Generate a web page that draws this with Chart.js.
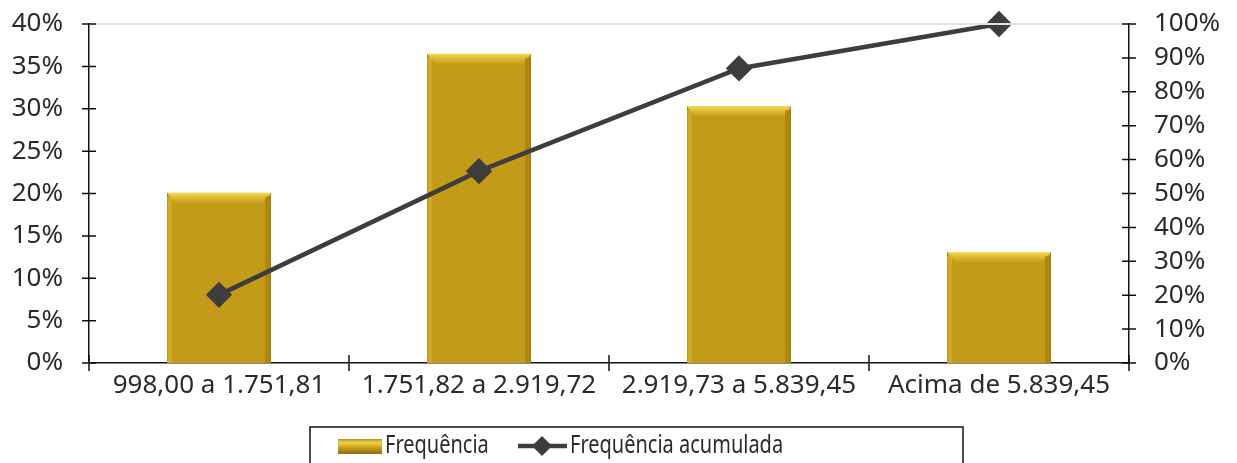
<!DOCTYPE html>
<html>
<head>
<meta charset="utf-8">
<script src="https://cdn.jsdelivr.net/npm/chart.js@4"></script>
<style>
  html, body { margin: 0; padding: 0; background: #fff; }
  #wrap { width: 1237px; height: 463px; }
</style>
</head>
<body>
<div id="wrap"><canvas id="mychart"></canvas></div>
<script>
const categories = ['998,00 a 1.751,81', '1.751,82 a 2.919,72', '2.919,73 a 5.839,45', 'Acima de 5.839,45']
const frequencia = [20.1, 36.5, 30.3, 13.1]
const acumulada = [20.1, 56.6, 86.9, 100]
const leftTicks = [0, 5, 10, 15, 20, 25, 30, 35, 40]
const rightTicks = [0, 10, 20, 30, 40, 50, 60, 70, 80, 90, 100]

const tickFont = { family: 'Noto Sans', size: 26 }
const textColor = '#2b2b2b'

// excel style tick marks that cross the axis + top border + legend box
const axisDeco = {
  id: 'axisDeco',
  afterDraw(chart) {
    const c = chart.ctx
    const area = chart.chartArea
    const y = chart.scales.y
    const y2 = chart.scales.y2
    const x = chart.scales.x
    c.save()
    c.strokeStyle = '#e2e2e2'
    c.lineWidth = 2
    c.beginPath()
    c.moveTo(area.left + 6, area.top)
    c.lineTo(area.right - 6, area.top)
    c.stroke()

    c.strokeStyle = '#111'
    c.lineWidth = 1.5
    c.beginPath()
    leftTicks.forEach(v => {
      const py = y.getPixelForValue(v)
      c.moveTo(area.left - 7, py); c.lineTo(area.left + 7, py)
    })
    rightTicks.forEach(v => {
      const py = y2.getPixelForValue(v)
      c.moveTo(area.right - 7, py); c.lineTo(area.right + 7, py)
    })
    for (let i = 0; i <= categories.length; i++) {
      const px = x.getPixelForValue(i - 0.5)
      c.moveTo(px, area.bottom - 8); c.lineTo(px, area.bottom + 8)
    }
    c.stroke()

    // legend
    c.strokeStyle = '#111'
    c.lineWidth = 1.5
    c.strokeRect(310, 427, 653, 50)
    const ly = 446
    let lx = 338
    const g = c.createLinearGradient(0, ly - 8, 0, ly + 8)
    g.addColorStop(0, '#a88512')
    g.addColorStop(0.3, '#f2d34a')
    g.addColorStop(0.6, '#c9a01c')
    g.addColorStop(1, '#8c6d0c')
    c.fillStyle = g
    c.fillRect(lx, ly - 7, 44, 15)
    drawNarrow(c, 'Frequência', 385, ly)
    lx = 518
    c.strokeStyle = '#3d3d3d'
    c.lineWidth = 4.5
    c.beginPath(); c.moveTo(lx, ly); c.lineTo(lx + 49, ly); c.stroke()
    c.fillStyle = '#3d3d3d'
    c.beginPath()
    c.moveTo(lx + 24, ly - 10); c.lineTo(lx + 34, ly); c.lineTo(lx + 24, ly + 10); c.lineTo(lx + 14, ly)
    c.closePath(); c.fill()
    drawNarrow(c, 'Frequência acumulada', 570, ly)
    c.restore()
  }
}

function drawNarrow(c, txt, x, y) {
  c.save()
  c.translate(x, y)
  c.scale(0.8, 1)
  c.font = '25px "Noto Sans"'
  c.fillStyle = textColor
  c.textBaseline = 'middle'
  c.fillText(txt, 0, 0)
  c.restore()
}

// bevel look on the bars
const barBevel = {
  id: 'barBevel',
  afterDatasetDraw(chart, args) {
    if (args.index !== 1) return
    const c = chart.ctx
    chart.getDatasetMeta(1).data.forEach(bar => {
      const l = bar.x - bar.width / 2, r = bar.x + bar.width / 2, t = bar.y, b = bar.base
      c.save()
      const g = c.createLinearGradient(0, t, 0, t + 12)
      g.addColorStop(0, '#f7dc5a')
      g.addColorStop(1, 'rgba(230,190,40,0)')
      c.fillStyle = g
      c.beginPath()
      c.moveTo(l, t); c.lineTo(r, t); c.lineTo(r - 8, t + 10); c.lineTo(l + 8, t + 10); c.closePath()
      c.fill()
      c.fillStyle = 'rgba(150,115,10,0.5)'
      c.fillRect(r - 6, t + 4, 6, b - t - 4)
      c.fillStyle = 'rgba(240,205,70,0.3)'
      c.fillRect(l, t + 4, 5, b - t - 4)
      c.restore()
    })
  }
}

const fitY = w => s => { s.width = w; s.paddingTop = 0; s.paddingBottom = 0 }

const ctx = document.getElementById('mychart')

const myChart = new Chart(ctx, {
  data: {
    labels: categories,
    datasets: [{
      type: 'line',
      label: 'Frequência acumulada',
      data: acumulada,
      yAxisID: 'y2',
      borderColor: '#3d3d3d',
      backgroundColor: '#3d3d3d',
      borderWidth: 4.5,
      pointStyle: 'rectRot',
      pointRadius: 10,
      pointHoverRadius: 10,
      tension: 0,
      clip: 14,
      order: 0
    }, {
      type: 'bar',
      label: 'Frequência',
      data: frequencia,
      yAxisID: 'y',
      backgroundColor: '#c49b18',
      borderColor: '#a98610',
      borderWidth: 1,
      barPercentage: 0.8,
      categoryPercentage: 0.5,
      order: 1
    }]
  },
  options: {
    responsive: true,
    maintainAspectRatio: false,
    animation: false,
    layout: { padding: { left: 0, right: 0, top: 24, bottom: 66 } },
    plugins: {
      legend: { display: false },
      tooltip: { enabled: false }
    },
    scales: {
      x: {
        afterFit: s => { s.height = 34; s.paddingLeft = 0; s.paddingRight = 0 },
        grid: { display: false, drawTicks: false },
        border: { display: true, color: '#111', width: 1.5 },
        ticks: { color: textColor, font: tickFont, padding: 7, maxRotation: 0, autoSkip: false }
      },
      y: {
        position: 'left',
        afterFit: fitY(89),
        min: 0, max: 40,
        grid: { display: false, drawTicks: false },
        border: { display: true, color: '#111', width: 1.5 },
        ticks: { stepSize: 5, color: textColor, font: tickFont, padding: 26, autoSkip: false, callback: v => v + '%' }
      },
      y2: {
        position: 'right',
        afterFit: fitY(108),
        min: 0, max: 100,
        grid: { display: false, drawTicks: false },
        border: { display: true, color: '#111', width: 1.5 },
        ticks: { stepSize: 10, color: textColor, font: tickFont, padding: 25, autoSkip: false, callback: v => v + '%' }
      }
    }
  },
  plugins: [barBevel, axisDeco]
})
</script>
</body>
</html>
